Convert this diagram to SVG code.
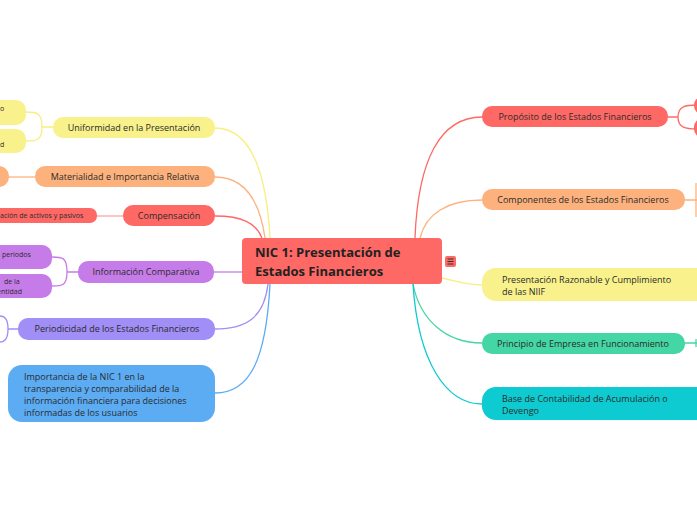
<svg xmlns="http://www.w3.org/2000/svg" width="697" height="520" viewBox="0 0 697 520">
<style>
text{font-family:"Open Sans","Noto Sans",sans-serif;fill:#2b2b2b;font-size:9px}
.c{fill:none;stroke-width:1.3}
.t{text-anchor:middle}
.y{fill:#f8f18c}.o{fill:#fdb27e}.r{fill:#fe6965}.p{fill:#c57ce8}.v{fill:#a18ef6}.b{fill:#5cacf4}.g{fill:#44d6a4}.cy{fill:#0dcbd0}
</style>
<rect width="697" height="520" fill="#fff"/>
<g id="connectors">
<path class="c" stroke="#f8ef7e" d="M270 238 C266 165 248 128 215 128"/>
<path class="c" stroke="#fdb27e" d="M265 238 C259 196 242 177 215 177"/>
<path class="c" stroke="#fe6965" d="M262 238 C256 223 242 216 215 216"/>
<path class="c" stroke="#c57ce8" d="M243 272 L214 272"/>
<path class="c" stroke="#a18ef6" d="M268 284 C264 318 246 329 215 329"/>
<path class="c" stroke="#5cacf4" d="M270 284 C266 360 250 393 215 393"/>
<path class="c" stroke="#fe6965" d="M415 238 C418 160 440 117 482 117"/>
<path class="c" stroke="#fdb27e" d="M420 238 C426 214 447 200 482 200"/>
<path class="c" stroke="#f8ef7e" d="M442 278 C460 282 466 285 482 285"/>
<path class="c" stroke="#44d6a4" d="M413 284 C420 320 446 343 482 343"/>
<path class="c" stroke="#0dcbd0" d="M413 284 C418 362 446 404 482 404"/>
<path class="c" stroke="#f8ef7e" d="M53 127 L42 127 C42 112 36 112 26 112 M42 127 C42 141 36 141 26 141"/>
<path class="c" stroke="#fdb27e" d="M35 177 L9 177"/>
<path class="c" stroke="#f9a3a0" d="M123 216 L97 216"/>
<path class="c" stroke="#c57ce8" d="M78 272 L67 272 C67 257 62 257 52 257 M67 272 C67 286 62 286 52 286"/>
<path class="c" stroke="#a18ef6" d="M18 329 L8 329 C8 318 4 316 0 316 M8 329 C8 340 4 342 0 342"/>
<path class="c" stroke="#fe6965" d="M668 117 L678 117 C678 106 686 105 697 105 M678 117 C678 128 686 129 697 129"/>
<path class="c" stroke="#fdb27e" d="M685 200 L697 200 M696 183 L696 217"/>
<path class="c" stroke="#44d6a4" d="M685 343 L697 343 M696 339 L696 347"/>
</g>
<g id="center">
<rect x="242" y="238" width="200" height="46" rx="4" class="r"/>
<text x="255" y="257" style="font-size:13px;font-weight:bold;fill:#222">NIC 1: Presentación de</text>
<text x="255" y="276" style="font-size:13px;font-weight:bold;fill:#222">Estados Financieros</text>
<rect x="445" y="256" width="11" height="11" rx="2" class="r"/>
<path d="M447.5 259h6M447.5 261.5h6M447.5 264h6" stroke="#333" stroke-width="1"/>
</g>
<g id="uniformidad">
<rect x="53" y="117" width="162" height="21" rx="10" class="y"/>
<text x="134" y="131" class="t">Uniformidad en la Presentación</text>
</g>
<g id="uniformidad-c1"><rect x="-20" y="100" width="46" height="25" rx="10" class="y"/><text x="0" y="111" style="font-size:7px">o</text></g>
<g id="uniformidad-c2"><rect x="-20" y="129" width="46" height="24" rx="10" class="y"/><text x="0" y="147" style="font-size:7px">d</text></g>
<g id="materialidad">
<rect x="35" y="166" width="180" height="21" rx="10" class="o"/>
<text x="125" y="180" class="t">Materialidad e Importancia Relativa</text>
</g>
<g id="materialidad-c1"><rect x="-20" y="166" width="29" height="21" rx="10" class="o"/></g>
<g id="compensacion">
<rect x="123" y="205" width="92" height="21" rx="10" class="r"/>
<text x="169" y="219" class="t">Compensación</text>
</g>
<g id="compensacion-c1"><rect x="-20" y="208" width="117" height="15" rx="7" class="r"/><text x="0" y="218" style="font-size:7px">ación de activos y pasivos</text></g>
<g id="informacion">
<rect x="78" y="261" width="136" height="22" rx="10" class="p"/>
<text x="146" y="275" class="t">Información Comparativa</text>
</g>
<g id="informacion-c1"><rect x="-20" y="245" width="72" height="24" rx="10" class="p"/><text x="2" y="257" style="font-size:7px">periodos</text></g>
<g id="informacion-c2"><rect x="-20" y="274" width="72" height="24" rx="10" class="p"/><text x="4" y="284" style="font-size:7px">de la</text><text x="-3" y="294" style="font-size:7px">entidad</text></g>
<g id="periodicidad">
<rect x="18" y="318" width="197" height="22" rx="10" class="v"/>
<text x="117" y="332" class="t">Periodicidad de los Estados Financieros</text>
</g>
<g id="importancia">
<rect x="8" y="365" width="207" height="57" rx="14" class="b"/>
<text x="24" y="380">Importancia de la NIC 1 en la</text>
<text x="24" y="392">transparencia y comparabilidad de la</text>
<text x="24" y="404">información financiera para decisiones</text>
<text x="24" y="416">informadas de los usuarios</text>
</g>
<g id="proposito">
<rect x="482" y="106" width="186" height="21" rx="10" class="r"/>
<text x="575" y="120" class="t">Propósito de los Estados Financieros</text>
</g>
<g id="proposito-c1"><rect x="694" y="97" width="30" height="17" rx="8" class="r"/></g>
<g id="proposito-c2"><rect x="694" y="118" width="30" height="20" rx="9" class="r"/></g>
<g id="componentes">
<rect x="482" y="189" width="203" height="21" rx="10" class="o"/>
<text x="583" y="203" class="t">Componentes de los Estados Financieros</text>
</g>
<g id="presentacion">
<rect x="482" y="268" width="230" height="33" rx="14" class="y"/>
<text x="502" y="283">Presentación Razonable y Cumplimiento</text>
<text x="502" y="295">de las NIIF</text>
</g>
<g id="principio">
<rect x="482" y="333" width="203" height="21" rx="10" class="g"/>
<text x="583" y="347" class="t">Principio de Empresa en Funcionamiento</text>
</g>
<g id="base">
<rect x="482" y="387" width="230" height="33" rx="14" class="cy"/>
<text x="502" y="402">Base de Contabilidad de Acumulación o</text>
<text x="502" y="414">Devengo</text>
</g>
</svg>
